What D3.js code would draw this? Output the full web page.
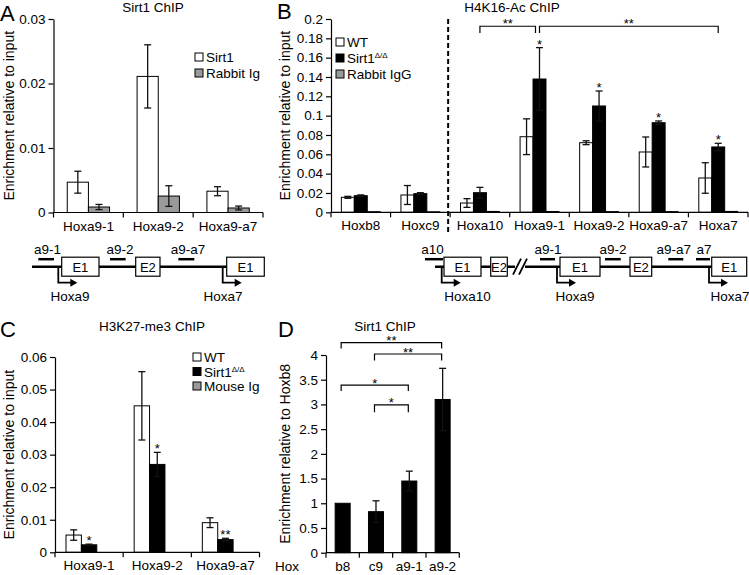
<!DOCTYPE html>
<html><head><meta charset="utf-8">
<script src="https://cdn.jsdelivr.net/npm/d3@7"></script>
<style>body{margin:0;background:#fff}svg{display:block;font-family:"Liberation Sans",Arial,sans-serif}</style>
</head><body><script>
// ---------- DATA ----------
// Panel A: Sirt1 ChIP
const catsA = ["Hoxa9-1","Hoxa9-2","Hoxa9-a7"];
const seriesA = ["Sirt1","Rabbit Ig"];
const sirt1A = [0.0047,0.0211,0.0033];
const sirt1ErrA = [0.0017,0.0049,0.0007];
const rabbitA = [0.00085,0.00255,0.0007];
const rabbitErrA = [0.0004,0.0016,0.0003];
const ticksA = [0,0.01,0.02,0.03];

// Panel B: H4K16-Ac ChIP
const catsB = ["Hoxb8","Hoxc9","Hoxa10","Hoxa9-1","Hoxa9-2","Hoxa9-a7","Hoxa7"];
const seriesB = ["WT","Sirt1","Rabbit IgG"];
const wtB = [0.0155,0.0179,0.0096,0.0782,0.072,0.0624,0.0355];
const wtErrB = [0.001,0.0098,0.0045,0.0185,0.002,0.0155,0.0158];
const koB = [0.0172,0.0193,0.0203,0.1379,0.110,0.0927,0.0676];
const koErrB = [0.0008,0.001,0.0055,0.0325,0.0155,0.0018,0.0038];
const igB = [0.0006,0.0005,0.0009,0.0008,0.0007,0.0007,0.0009];
const starsB = ["","","","*","*","*","*"];
const ticksB = [0,0.02,0.04,0.06,0.08,0.1,0.12,0.14,0.16,0.18,0.2];

// Panel C: H3K27-me3 ChIP
const catsC = ["Hoxa9-1","Hoxa9-2","Hoxa9-a7"];
const seriesC = ["WT","Sirt1","Mouse Ig"];
const wtC = [0.0053,0.045,0.0091];
const wtErrC = [0.0016,0.0105,0.0015];
const koC = [0.0023,0.027,0.0039];
const koErrC = [0.0002,0.0037,0.0004];
const mouseC = [0,0,0];
const starsC = ["*","*","**"];
const ticksC = [0,0.01,0.02,0.03,0.04,0.05,0.06];

// Panel D: Sirt1 ChIP relative to Hoxb8
const catsD = ["b8","c9","a9-1","a9-2"];
const valuesD = [1.0,0.83,1.45,3.1];
const errD = [0,0.22,0.2,0.63];
const ticksD = [0,0.5,1,1.5,2,2.5,3,3.5,4];
const bracketsD = [
  {from:"b8", to:"a9-2", top:4.25, leg:4.13, label:"**"},
  {from:"c9", to:"a9-2", top:4.02, leg:3.89, label:"**"},
  {from:"b8", to:"a9-1", top:3.39, leg:3.27, label:"*"},
  {from:"c9", to:"a9-1", top:2.99, leg:2.84, label:"*"}
];

// ---------- DRAW ----------
const W=749,H=575;
const svg=d3.select("body").append("svg").attr("width",W).attr("height",H);
const FILL={white:"#ffffff",black:"#000000",gray:"#9a9a9a"};
const fmt=d=>d===0?"0":d3.format("~g")(d);

function panel(o){
  const g=svg.append("g");
  const x=d3.scaleBand().domain(o.cats).range(o.xRange).paddingInner(0).paddingOuter(0);
  const xs=d3.scaleBand().domain(o.series).range([0,x.bandwidth()]).paddingInner(0).paddingOuter(o.pad);
  const y=d3.scaleLinear().domain(o.yDomain).range(o.yRange);
  o.series.forEach((s,si)=>{
    const vals=o.values[si], errs=o.errors[si];
    const gg=g.append("g");
    gg.selectAll("rect").data(o.cats).join("rect")
      .attr("x",c=>x(c)+xs(s)).attr("width",xs.bandwidth())
      .attr("y",(c,i)=>y(vals[i])).attr("height",(c,i)=>y(0)-y(vals[i]))
      .attr("fill",o.colors[si]).attr("stroke","#000").attr("stroke-width",vals.some(v=>v>0)?1:0);
    if(errs){
      o.cats.forEach((c,i)=>{
        if(!errs[i])return;
        const cx=x(c)+xs(s)+xs.bandwidth()/2;
        const y1=y(vals[i]+errs[i]), y2=y(Math.max(0,vals[i]-errs[i]));
        gg.append("line").attr("x1",cx).attr("x2",cx).attr("y1",y1).attr("y2",y2).attr("stroke","#111").attr("stroke-width",1.3);
        [y1,y2].forEach(yy=>gg.append("line").attr("x1",cx-3.5).attr("x2",cx+3.5).attr("y1",yy).attr("y2",yy).attr("stroke","#111").attr("stroke-width",1.3));
      });
    }
    if(o.stars && o.starSeries===s){
      o.cats.forEach((c,i)=>{
        if(!o.stars[i])return;
        const cx=x(c)+xs(s)+xs.bandwidth()/2;
        g.append("text").attr("x",cx).attr("y",y(vals[i]+(errs?errs[i]:0))+1)
          .attr("text-anchor","middle").attr("font-size",13).text(o.stars[i]);
      });
    }
  });
  const ya=g.append("g").attr("transform",`translate(${o.xRange[0]},0)`)
    .call(d3.axisLeft(y).tickValues(o.ticks).tickFormat(fmt).tickSize(5).tickSizeOuter(0).tickPadding(3));
  ya.selectAll("text").attr("font-size",13.5).attr("fill","#000").attr("font-family","Liberation Sans, Arial, sans-serif");
  ya.selectAll("line,path").attr("stroke","#000").attr("stroke-width",1.2);
  g.append("line").attr("x1",o.xRange[0]).attr("x2",o.xRange[1]).attr("y1",y(0)).attr("y2",y(0)).attr("stroke","#000").attr("stroke-width",1.2);
  const bounds=o.cats.map(c=>x(c)).concat([o.xRange[1]]);
  g.selectAll(".bt").data(bounds).join("line").attr("x1",d=>d).attr("x2",d=>d).attr("y1",y(0)).attr("y2",y(0)+5).attr("stroke","#000").attr("stroke-width",1.2);
  g.selectAll(".cl").data(o.cats).join("text").attr("x",c=>x(c)+x.bandwidth()/2).attr("y",y(0)+18)
    .attr("text-anchor","middle").attr("font-size",13.5).text(c=>c);
  g.append("text").attr("transform",`translate(${o.yTitleX},${(o.yRange[0]+o.yRange[1])/2}) rotate(-90)`)
    .attr("text-anchor","middle").attr("font-size",14).text(o.yTitle);
  return {x,xs,y,g};
}

function legend(x0,y0,items,step){
  items.forEach((it,i)=>{
    const yy=y0+i*step;
    svg.append("rect").attr("x",x0).attr("y",yy-4).attr("width",8).attr("height",8).attr("fill",it.fill).attr("stroke","#000").attr("stroke-width",1);
    const t=svg.append("text").attr("x",x0+11).attr("y",yy+5).attr("font-size",13.5);
    t.append("tspan").text(it.label);
    if(it.sup) t.append("tspan").attr("font-size",8).attr("dy",-5).text(it.sup);
  });
}
function label(txt,x,y,size,anchor){
  svg.append("text").attr("x",x).attr("y",y).attr("font-size",size).attr("text-anchor",anchor||"start").text(txt);
}

// Panel A
panel({cats:catsA,series:seriesA,values:[sirt1A,rabbitA],errors:[sirt1ErrA,rabbitErrA],
  colors:[FILL.white,FILL.gray],xRange:[53.5,263],yDomain:[0,0.03],yRange:[212.5,19],ticks:ticksA,pad:0.65,
  yTitle:"Enrichment relative to input",yTitleX:14});
legend(195,57,[{label:"Sirt1",fill:FILL.white},{label:"Rabbit Ig",fill:FILL.gray}],16);
label("A",0,21,22); label("Sirt1 ChIP",153,12,13.5,"middle");

// Panel B
const pB=panel({cats:catsB,series:seriesB,values:[wtB,koB,igB],errors:[wtErrB,koErrB,null],
  colors:[FILL.white,FILL.black,FILL.gray],xRange:[331,748],yDomain:[0,0.2],yRange:[212.3,19],ticks:ticksB,pad:0.8,
  stars:starsB,starSeries:"Sirt1",yTitle:"Enrichment relative to input",yTitleX:290});
legend(336,42,[{label:"WT",fill:FILL.white},{label:"Sirt1",sup:"Δ/Δ",fill:FILL.black},{label:"Rabbit IgG",fill:FILL.gray}],16);
label("B",277,19,22); label("H4K16-Ac ChIP",512,12,13.5,"middle");
{
  const {x,xs,y,g}=pB;
  const dx=x("Hoxa10")-2;
  g.append("line").attr("x1",dx).attr("x2",dx).attr("y1",y(0.2)).attr("y2",233).attr("stroke","#000").attr("stroke-width",2).attr("stroke-dasharray","5,3");
  const cen=(c,s)=>x(c)+xs(s)+xs.bandwidth()/2;
  const br=[{x1:cen("Hoxa10","Sirt1"),x2:cen("Hoxa9-1","Sirt1")-4},{x1:cen("Hoxa9-1","Sirt1"),x2:cen("Hoxa7","Sirt1")}];
  br.forEach(b=>{
    g.append("path").attr("d",`M${b.x1},${y(0.1855)}V${y(0.1925)}H${b.x2}V${y(0.1855)}`).attr("fill","none").attr("stroke","#000").attr("stroke-width",1.2);
    g.append("text").attr("x",(b.x1+b.x2)/2).attr("y",y(0.1925)+2).attr("text-anchor","middle").attr("font-size",13).text("**");
  });
}

// Panel C
panel({cats:catsC,series:seriesC,values:[wtC,koC,mouseC],errors:[wtErrC,koErrC,null],
  colors:[FILL.white,FILL.black,FILL.gray],xRange:[55,259.5],yDomain:[0,0.06],yRange:[552.3,357],ticks:ticksC,pad:0.715,
  stars:starsC,starSeries:"Sirt1",yTitle:"Enrichment relative to input",yTitleX:14});
legend(193,357,[{label:"WT",fill:FILL.white},{label:"Sirt1",sup:"Δ/Δ",fill:FILL.black},{label:"Mouse Ig",fill:FILL.gray}],14.5);
label("C",0,337,22); label("H3K27-me3 ChIP",152,331,13.5,"middle");

// Panel D
const pD=panel({cats:catsD,series:["Sirt1"],values:[valuesD],errors:[errD],
  colors:[FILL.black],xRange:[326,459.3],yDomain:[0,4],yRange:[552.7,355],ticks:ticksD,pad:0.61,
  yTitle:"Enrichment relative to Hoxb8",yTitleX:290});
label("Hox",287,571,13.5,"middle");
label("D",278,337,22); label("Sirt1 ChIP",385,331,13.5,"middle");
{
  const {x,y,g}=pD;
  const c=k=>x(k)+x.bandwidth()/2;
  bracketsD.forEach(b=>{
    const x1=c(b.from)-1.5,x2=c(b.to)-1;
    g.append("path").attr("d",`M${x1},${y(b.leg)}V${y(b.top)}H${x2}V${y(b.leg)}`).attr("fill","none").attr("stroke","#000").attr("stroke-width",1.2);
    g.append("text").attr("x",(x1+x2)/2).attr("y",y(b.top)+2.5).attr("text-anchor","middle").attr("font-size",13).text(b.label);
  });
}

// ---------- GENE SCHEMATICS ----------
const lineY=266.7;
function schematic(s){
  const g=svg.append("g");
  s.backbone.forEach(b=>g.append("line").attr("x1",b[0]).attr("x2",b[1]).attr("y1",lineY).attr("y2",lineY).attr("stroke","#000").attr("stroke-width",2.5));
  s.tss.forEach(t=>{
    g.append("path").attr("d",`M${t.x},${lineY}V${lineY+16}H${t.x+13}`).attr("fill","none").attr("stroke","#000").attr("stroke-width",1.8);
    g.append("path").attr("d",`M${t.x+12},${lineY+12}L${t.x+19},${lineY+16}L${t.x+12},${lineY+20}Z`).attr("fill","#000");
    g.append("text").attr("x",t.lx).attr("y",lineY+34).attr("text-anchor","middle").attr("font-size",13.5).text(t.label);
  });
  s.boxes.forEach(b=>{
    g.append("rect").attr("x",b[0]).attr("y",lineY-9.5).attr("width",b[1]-b[0]).attr("height",19).attr("fill","#fff").attr("stroke","#000").attr("stroke-width",1.2);
    g.append("text").attr("x",(b[0]+b[1])/2).attr("y",lineY+5).attr("text-anchor","middle").attr("font-size",13).text(b[2]);
  });
  s.probes.forEach(p=>{
    g.append("line").attr("x1",p[0]).attr("x2",p[1]).attr("y1",lineY-7.5).attr("y2",lineY-7.5).attr("stroke","#000").attr("stroke-width",2.5);
    g.append("text").attr("x",p[3]).attr("y",lineY-13).attr("text-anchor","middle").attr("font-size",13.5).text(p[2]);
  });
  if(s.brk){
    const b=s.brk;
    [0,6].forEach(o=>g.append("line").attr("x1",b-4+o).attr("x2",b+4+o).attr("y1",lineY+8).attr("y2",lineY-8).attr("stroke","#000").attr("stroke-width",1.8));
  }
}
schematic({
  backbone:[[32,227]],
  boxes:[[61.7,99,"E1"],[135.7,160,"E2"],[226.7,264.3,"E1"]],
  probes:[[38.3,54,"a9-1",47.5],[110,125.7,"a9-2",120],[178.3,194.3,"a9-a7",188]],
  tss:[{x:58.3,label:"Hoxa9",lx:70},{x:222.7,label:"Hoxa7",lx:223}]
});
schematic({
  backbone:[[435,515],[525,712]],
  boxes:[[444,481,"E1"],[490.7,507.3,"E2"],[560,600,"E1"],[630,651.7,"E2"],[711.7,746.7,"E1"]],
  probes:[[425,443,"a10",432.5],[540,555,"a9-1",548],[605,620.7,"a9-2",613],[668.3,683.3,"a9-a7",673.7],[696,710,"a7",704]],
  tss:[{x:441.7,label:"Hoxa10",lx:467.5},{x:557,label:"Hoxa9",lx:575},{x:709,label:"Hoxa7",lx:730}],
  brk:517
});
</script></body></html>
